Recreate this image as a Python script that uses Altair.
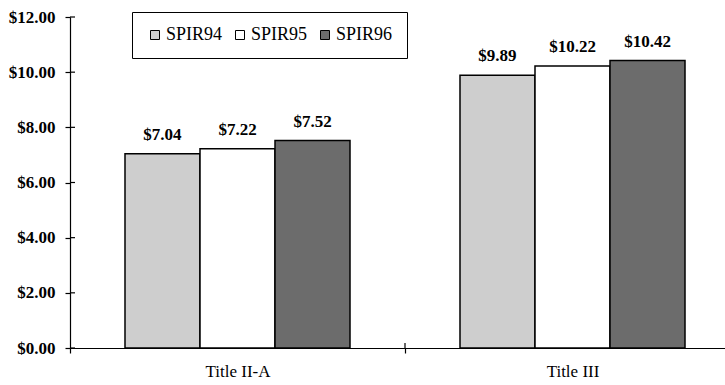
import altair as alt
import pandas as pd

# Per-pupil amounts by program and survey year
categories = ["Title II-A", "Title III"]
series = ["SPIR94", "SPIR95", "SPIR96"]
spir94 = [7.04, 9.89]
spir95 = [7.22, 10.22]
spir96 = [7.52, 10.42]
y_ticks = [0, 2, 4, 6, 8, 10, 12]
fills = ["#cecece", "#ffffff", "#6c6c6c"]

rows = []
for name, vals in zip(series, [spir94, spir95, spir96]):
    for cat, v in zip(categories, vals):
        rows.append({"program": cat, "series": name, "value": v, "label": f"${v:.2f}"})
df = pd.DataFrame(rows)

W, H = 655, 331
FONT = "Liberation Serif"

x_scale = alt.Scale(domain=categories, range=[0, 670], paddingInner=0, paddingOuter=0)
off_scale = alt.Scale(domain=series, paddingInner=0, paddingOuter=0.7333)
y_scale = alt.Scale(domain=[0, 12], nice=False, zero=True)

x_enc = alt.X(
    "program:N",
    scale=x_scale,
    sort=categories,
    axis=alt.Axis(
        title=None, labelAngle=0, tickBand="extent", tickSize=5, labelPadding=10,
        labelFont=FONT, labelFontSize=17, labelColor="black",
        domainColor="black", tickColor="black", domainWidth=1.2, tickWidth=1.2,
    ),
)
y_enc = alt.Y(
    "value:Q",
    scale=y_scale,
    axis=alt.Axis(
        title=None, values=y_ticks, format="$,.2f", grid=False, tickSize=5,
        labelPadding=10, labelFont=FONT, labelFontSize=17, labelFontWeight="bold",
        labelColor="black", domainColor="black", tickColor="black",
        domainWidth=1.2, tickWidth=1.2,
    ),
)

bars = alt.Chart(df).mark_bar(stroke="black", strokeWidth=1.5).encode(
    x=x_enc,
    xOffset=alt.XOffset("series:N", scale=off_scale, sort=series),
    y=y_enc,
    color=alt.Color(
        "series:N",
        scale=alt.Scale(domain=series, range=fills),
        legend=alt.Legend(
            title=None, orient="none", legendX=62, legendY=-5, direction="horizontal",
            strokeColor="black", padding=14, symbolType="square", symbolSize=81,
            symbolStrokeColor="black", symbolStrokeWidth=1, labelFont=FONT,
            labelFontSize=18, labelColor="black", columnPadding=8, labelOffset=2,
        ),
    ),
)

labels = alt.Chart(df).mark_text(
    dy=-14, baseline="alphabetic", font=FONT, fontSize=17, fontWeight="bold", color="black"
).encode(
    x=alt.X("program:N", scale=x_scale, sort=categories),
    xOffset=alt.XOffset("series:N", scale=off_scale, sort=series),
    y=alt.Y("value:Q", scale=y_scale),
    text="label:N",
)

# inner halves of the axis ticks, so the ticks cross the axis lines
y_inner = alt.Chart(pd.DataFrame({"t": y_ticks})).mark_rule(color="black", strokeWidth=1.2).encode(
    y=alt.Y("t:Q", scale=y_scale), x=alt.value(0), x2=alt.value(5)
)
x_inner = alt.Chart(pd.DataFrame({"program": categories[1:]})).mark_rule(color="black", strokeWidth=1.2).encode(
    x=alt.X("program:N", scale=x_scale, bandPosition=0), y=alt.value(H - 5), y2=alt.value(H)
)

chart = alt.layer(bars, labels, y_inner, x_inner).properties(
    width=W, height=H,
    autosize=alt.AutoSizeParams(type="none"),
    padding={"left": 70, "top": 17, "right": 0, "bottom": 37},
    background="white",
).configure_view(stroke=None)

chart.save("out.html", embed_options={"renderer": "svg", "actions": False})
